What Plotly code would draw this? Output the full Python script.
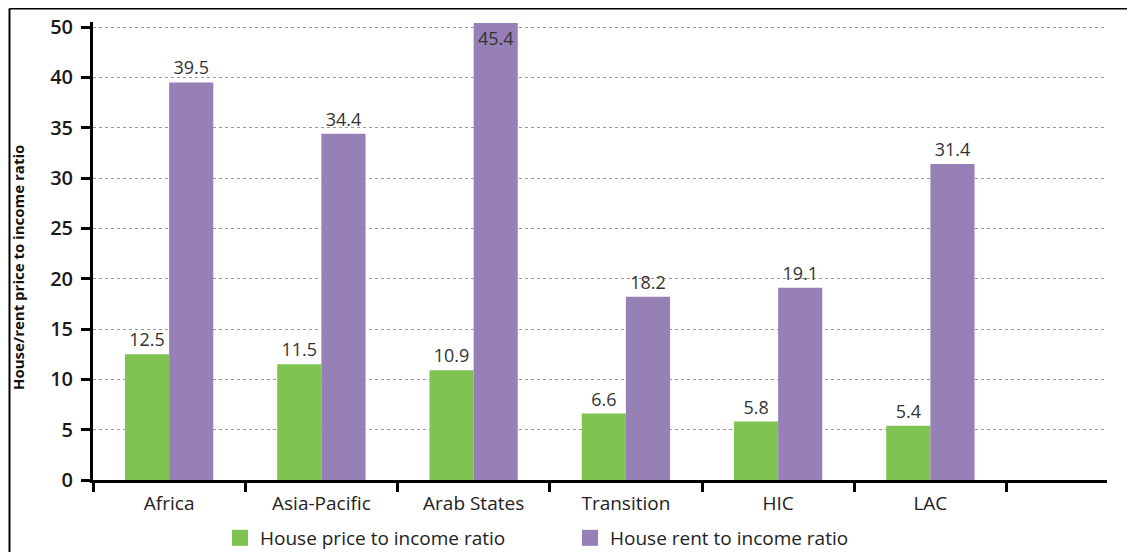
import plotly.graph_objects as go

categories = ["Africa", "Asia-Pacific", "Arab States", "Transition", "HIC", "LAC"]
price_to_income = [12.5, 11.5, 10.9, 6.6, 5.8, 5.4]
rent_to_income = [39.5, 34.4, 45.4, 18.2, 19.1, 31.4]
series_names = ["House price to income ratio", "House rent to income ratio"]
y_tickvals = [0, 5, 10, 15, 20, 25, 30, 35, 40, 45]
y_ticktext = ["0", "5", "10", "15", "20", "25", "30", "35", "40", "50"]
y_title = "House/rent price to income ratio"

GREEN = "#7fc352"
PURPLE = "#9780b5"
FONT = "Open Sans"
Y_MAX = 45.5

# the page places the figure 8px in from the top-left corner
OFF = 8
W, H = 1135 - OFF, 552 - OFF
L, T = 93 - OFF, 22 - OFF
R = W - (1107 - OFF)
B = H - (480 - OFF)
pw, ph = W - L - R, H - T - B

def px_x(p):
    return (p - OFF - L) / pw

def px_y(p):
    return (H - B - (p - OFF)) / ph

fig = go.Figure()
for vals, col in [(price_to_income, GREEN), (rent_to_income, PURPLE)]:
    # a label that would run off the top of the page sits just inside its bar
    pos = ["inside" if v > Y_MAX - 1.5 else "outside" for v in vals]
    fig.add_trace(go.Bar(
        x=categories, y=vals, marker=dict(color=col, line=dict(width=0)),
        text=[f"{v:.1f}" for v in vals], textposition=pos,
        insidetextanchor="end", textangle=0,
        textfont=dict(family=FONT, size=18, color="#333333"),
        insidetextfont=dict(family=FONT, size=18, color="#333333"),
        outsidetextfont=dict(family=FONT, size=18, color="#333333"),
        cliponaxis=False, showlegend=False, hoverinfo="x+y"))

for name, col in zip(series_names, [GREEN, PURPLE]):
    fig.add_trace(go.Scatter(
        x=[None], y=[None], mode="markers", name=name,
        marker=dict(symbol="square", size=16, color=col)))

fig.update_layout(
    width=W, height=H,
    margin=dict(l=L, r=R, t=T, b=B, autoexpand=False),
    paper_bgcolor="white", plot_bgcolor="white",
    barmode="group", bargap=0.42, bargroupgap=0,
    uniformtext=dict(mode=False),
    font=dict(family=FONT, size=19, color="#222222"),
    showlegend=True,
    legend=dict(orientation="h", x=px_x(220), y=px_y(538), xanchor="left", yanchor="middle",
                entrywidth=305, entrywidthmode="pixels", itemsizing="trace",
                font=dict(family=FONT, size=19, color="#222222"), bgcolor="rgba(0,0,0,0)"),
)

fig.update_xaxes(
    type="category", categoryorder="array", categoryarray=categories,
    range=[-0.5, 6.16], showgrid=False, zeroline=False,
    showline=True, linecolor="black", linewidth=3,
    ticks="outside", tickson="boundaries", ticklen=9, tickwidth=2.5, tickcolor="black",
    ticklabelstandoff=4,
    tickfont=dict(family=FONT, size=19, color="#222222"))

fig.update_yaxes(
    range=[0, Y_MAX], tickmode="array", tickvals=y_tickvals, ticktext=y_ticktext,
    showgrid=True, gridcolor="#9a9a9a", gridwidth=1, griddash="dot",
    zeroline=False, showline=True, linecolor="black", linewidth=3,
    ticks="outside", ticklen=9, tickwidth=2.5, tickcolor="black",
    ticklabelstandoff=4,
    tickfont=dict(family=FONT, size=20, color="#1a1a1a", weight=600))

fig.add_annotation(
    text=y_title, textangle=-90, xref="paper", yref="paper",
    x=px_x(18), y=px_y(268), xanchor="center", yanchor="middle", showarrow=False,
    font=dict(family=FONT, size=15, color="#111111", weight="bold"))

# frame lines (left and top edges of the figure border)
fig.add_shape(type="line", xref="paper", yref="paper",
              x0=px_x(9.5), x1=px_x(9.5), y0=px_y(8.5), y1=px_y(560),
              line=dict(color="black", width=2))
fig.add_shape(type="line", xref="paper", yref="paper",
              x0=px_x(9.5), x1=px_x(1140), y0=px_y(8.5), y1=px_y(8.5),
              line=dict(color="black", width=2))

fig.write_html("out.html")
